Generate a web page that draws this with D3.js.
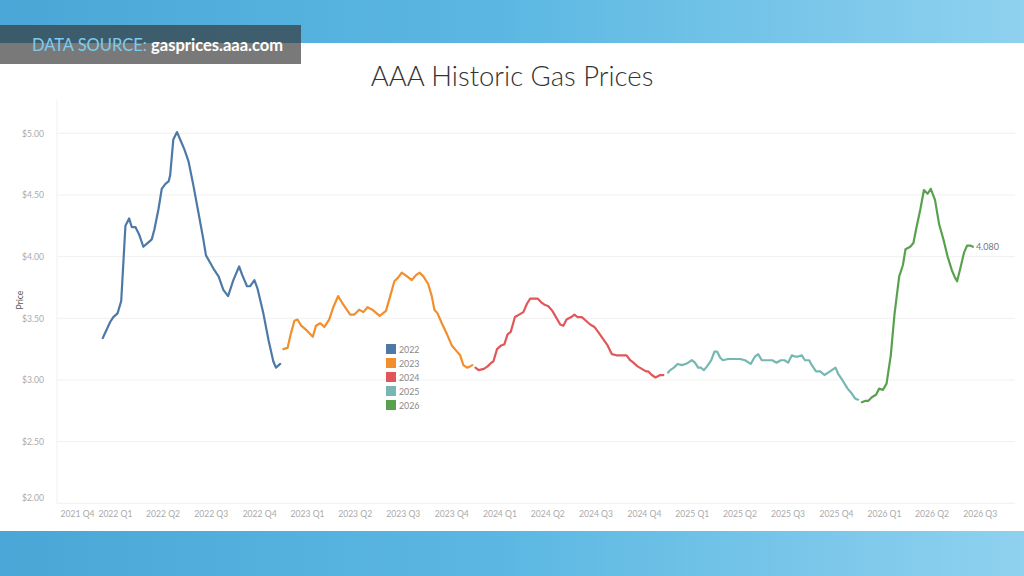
<!DOCTYPE html>
<html>
<head>
<meta charset="utf-8">
<script src="https://cdn.jsdelivr.net/npm/d3@7"></script>
<style>
  body { margin: 0; background: #fff; }
  svg { display: block; font-family: Lato, "Open Sans", sans-serif; }
</style>
</head>
<body>
<svg width="1024" height="576"></svg>
<script>
const years = ["2022", "2023", "2024", "2025", "2026"];
const colors = ["#4e79a7", "#f28e2b", "#e15759", "#76b7b2", "#59a14f"];

const series2022 = [
  ["2022-01-23", 3.34], ["2022-02-06", 3.47], ["2022-02-12", 3.51], ["2022-02-20", 3.54],
  ["2022-02-27", 3.64], ["2022-03-07", 4.25], ["2022-03-14", 4.31], ["2022-03-19", 4.24],
  ["2022-03-26", 4.24], ["2022-04-02", 4.18], ["2022-04-10", 4.08], ["2022-04-18", 4.11],
  ["2022-04-26", 4.14], ["2022-05-01", 4.22], ["2022-05-09", 4.39], ["2022-05-15", 4.55],
  ["2022-05-22", 4.59], ["2022-05-28", 4.61], ["2022-05-31", 4.66], ["2022-06-06", 4.95],
  ["2022-06-13", 5.01], ["2022-06-19", 4.95], ["2022-06-27", 4.87], ["2022-07-05", 4.77],
  ["2022-07-14", 4.58], ["2022-07-24", 4.35], ["2022-08-02", 4.14], ["2022-08-07", 4.01],
  ["2022-08-15", 3.95], ["2022-08-23", 3.89], ["2022-08-31", 3.84], ["2022-09-09", 3.73],
  ["2022-09-18", 3.68], ["2022-09-28", 3.81], ["2022-10-09", 3.92], ["2022-10-15", 3.85],
  ["2022-10-24", 3.76], ["2022-10-30", 3.76], ["2022-11-07", 3.81], ["2022-11-13", 3.74],
  ["2022-11-24", 3.54], ["2022-12-04", 3.32], ["2022-12-13", 3.15], ["2022-12-18", 3.10],
  ["2022-12-26", 3.13]
];

const series2023 = [
  ["2023-01-01", 3.25], ["2023-01-09", 3.26], ["2023-01-15", 3.37], ["2023-01-22", 3.48],
  ["2023-01-28", 3.49], ["2023-02-04", 3.44], ["2023-02-15", 3.40], ["2023-02-26", 3.35],
  ["2023-03-04", 3.44], ["2023-03-12", 3.46], ["2023-03-20", 3.43], ["2023-03-29", 3.49],
  ["2023-04-06", 3.59], ["2023-04-15", 3.68], ["2023-04-25", 3.61], ["2023-05-08", 3.53],
  ["2023-05-16", 3.53], ["2023-05-25", 3.57], ["2023-06-02", 3.55], ["2023-06-10", 3.59],
  ["2023-06-19", 3.57], ["2023-07-03", 3.52], ["2023-07-15", 3.56], ["2023-07-23", 3.68],
  ["2023-07-31", 3.80], ["2023-08-07", 3.83], ["2023-08-14", 3.87], ["2023-08-24", 3.84],
  ["2023-09-02", 3.81], ["2023-09-10", 3.85], ["2023-09-17", 3.87], ["2023-09-24", 3.84],
  ["2023-10-03", 3.78], ["2023-10-10", 3.68], ["2023-10-15", 3.57], ["2023-10-21", 3.54],
  ["2023-10-29", 3.46], ["2023-11-08", 3.37], ["2023-11-17", 3.28], ["2023-11-27", 3.23],
  ["2023-12-03", 3.20], ["2023-12-09", 3.12], ["2023-12-16", 3.10], ["2023-12-22", 3.11],
  ["2023-12-26", 3.12]
];

const series2024 = [
  ["2024-01-01", 3.10], ["2024-01-07", 3.08], ["2024-01-17", 3.09], ["2024-01-24", 3.11],
  ["2024-01-31", 3.14], ["2024-02-04", 3.15], ["2024-02-11", 3.25], ["2024-02-19", 3.28],
  ["2024-02-25", 3.29], ["2024-03-02", 3.37], ["2024-03-08", 3.39], ["2024-03-16", 3.51],
  ["2024-03-24", 3.53], ["2024-04-01", 3.55], ["2024-04-08", 3.62], ["2024-04-14", 3.66],
  ["2024-04-23", 3.66], ["2024-04-28", 3.66], ["2024-05-05", 3.63], ["2024-05-11", 3.61],
  ["2024-05-18", 3.60], ["2024-05-26", 3.56], ["2024-06-02", 3.51], ["2024-06-10", 3.45],
  ["2024-06-16", 3.44], ["2024-06-22", 3.49], ["2024-07-01", 3.51], ["2024-07-07", 3.53],
  ["2024-07-13", 3.51], ["2024-07-21", 3.51], ["2024-07-29", 3.48], ["2024-08-06", 3.45],
  ["2024-08-14", 3.43], ["2024-08-21", 3.39], ["2024-08-31", 3.33], ["2024-09-08", 3.28],
  ["2024-09-16", 3.21], ["2024-09-25", 3.20], ["2024-10-05", 3.20], ["2024-10-14", 3.20],
  ["2024-10-21", 3.16], ["2024-10-27", 3.14], ["2024-11-04", 3.11], ["2024-11-12", 3.09],
  ["2024-11-20", 3.07], ["2024-11-24", 3.07], ["2024-12-01", 3.04], ["2024-12-08", 3.02],
  ["2024-12-17", 3.04], ["2024-12-23", 3.04]
];

const series2025 = [
  ["2025-01-01", 3.06], ["2025-01-05", 3.08], ["2025-01-12", 3.10], ["2025-01-19", 3.13],
  ["2025-01-27", 3.12], ["2025-02-03", 3.13], ["2025-02-08", 3.14], ["2025-02-15", 3.16],
  ["2025-02-21", 3.14], ["2025-02-27", 3.10], ["2025-03-04", 3.10], ["2025-03-10", 3.08],
  ["2025-03-16", 3.11], ["2025-03-24", 3.16], ["2025-03-30", 3.23], ["2025-04-04", 3.23],
  ["2025-04-10", 3.18], ["2025-04-15", 3.16], ["2025-04-25", 3.17], ["2025-05-05", 3.17],
  ["2025-05-18", 3.17], ["2025-05-27", 3.16], ["2025-06-07", 3.13], ["2025-06-15", 3.19],
  ["2025-06-21", 3.21], ["2025-06-28", 3.16], ["2025-07-07", 3.16], ["2025-07-18", 3.16],
  ["2025-07-26", 3.14], ["2025-08-03", 3.16], ["2025-08-10", 3.16], ["2025-08-17", 3.14],
  ["2025-08-24", 3.20], ["2025-08-30", 3.19], ["2025-09-05", 3.19], ["2025-09-12", 3.20],
  ["2025-09-18", 3.16], ["2025-09-26", 3.16], ["2025-10-01", 3.12], ["2025-10-09", 3.07],
  ["2025-10-17", 3.07], ["2025-10-25", 3.04], ["2025-11-01", 3.06], ["2025-11-08", 3.08],
  ["2025-11-15", 3.10], ["2025-11-20", 3.05], ["2025-11-28", 3.00], ["2025-12-08", 2.93],
  ["2025-12-16", 2.89], ["2025-12-22", 2.85], ["2025-12-28", 2.84]
];

const series2026 = [
  ["2026-01-04", 2.82], ["2026-01-10", 2.83], ["2026-01-16", 2.83], ["2026-01-23", 2.86],
  ["2026-01-31", 2.88], ["2026-02-06", 2.93], ["2026-02-13", 2.92], ["2026-02-20", 2.97],
  ["2026-02-28", 3.20], ["2026-03-07", 3.53], ["2026-03-16", 3.84], ["2026-03-23", 3.93],
  ["2026-03-28", 4.06], ["2026-04-06", 4.08], ["2026-04-12", 4.11], ["2026-04-18", 4.24],
  ["2026-04-25", 4.38], ["2026-05-02", 4.54], ["2026-05-09", 4.51], ["2026-05-15", 4.55],
  ["2026-05-23", 4.46], ["2026-05-31", 4.26], ["2026-06-08", 4.14], ["2026-06-16", 4.00],
  ["2026-06-24", 3.89], ["2026-06-30", 3.83], ["2026-07-04", 3.80], ["2026-07-11", 3.92],
  ["2026-07-17", 4.03], ["2026-07-23", 4.09], ["2026-07-29", 4.09], ["2026-08-03", 4.08]
];

const quarterLabels = ["2021 Q4", "2022 Q1", "2022 Q2", "2022 Q3", "2022 Q4", "2023 Q1", "2023 Q2",
  "2023 Q3", "2023 Q4", "2024 Q1", "2024 Q2", "2024 Q3", "2024 Q4", "2025 Q1", "2025 Q2",
  "2025 Q3", "2025 Q4", "2026 Q1", "2026 Q2", "2026 Q3"];
const priceTicks = [2, 2.5, 3, 3.5, 4, 4.5, 5];

const allSeries = [series2022, series2023, series2024, series2025, series2026];
const parse = d3.timeParse("%Y-%m-%d");

const svg = d3.select("svg");
const plotLeft = 57, plotRight = 1015, plotTop = 100, plotBottom = 503.3;

// background: blue bands top and bottom, white card in between
const defs = svg.append("defs");
const grad = defs.append("linearGradient").attr("id", "blue").attr("x1", "0").attr("x2", "1");
grad.append("stop").attr("offset", "0").attr("stop-color", "#4aa6d6");
grad.append("stop").attr("offset", "0.5").attr("stop-color", "#5cb8e2");
grad.append("stop").attr("offset", "1").attr("stop-color", "#8fd1ef");
svg.append("rect").attr("width", 1024).attr("height", 576).attr("fill", "url(#blue)");
svg.append("rect").attr("x", 0).attr("y", 43).attr("width", 1024).attr("height", 488).attr("fill", "#fff");

// source banner
svg.append("rect").attr("x", 0).attr("y", 25).attr("width", 301).attr("height", 39)
  .attr("fill", "#333").attr("opacity", 0.66);
const src = svg.append("text").attr("x", 32).attr("y", 51).attr("font-size", 16.5);
src.append("tspan").attr("fill", "#7fcbee").text("DATA SOURCE: ");
src.append("tspan").attr("fill", "#fff").attr("font-weight", 700).text("gasprices.aaa.com");

svg.append("text").attr("x", 512).attr("y", 86).attr("text-anchor", "middle")
  .attr("font-size", 27.5).attr("font-weight", 300).attr("fill", "#333")
  .text("AAA Historic Gas Prices");

const x = d3.scaleTime()
  .domain([parse("2021-10-28"), parse("2026-10-22")])
  .range([plotLeft, plotRight]);

const y = d3.scaleLinear().domain([2, 5]).range([plotBottom, 133.3]);

// gridlines
svg.append("g").selectAll("line").data(priceTicks).join("line")
  .attr("x1", plotLeft).attr("x2", plotRight)
  .attr("y1", d => y(d)).attr("y2", d => y(d))
  .attr("stroke", "#f0f0f0");
svg.append("line").attr("x1", plotLeft).attr("x2", plotLeft).attr("y1", plotTop).attr("y2", plotBottom)
  .attr("stroke", "#f0f0f0");

const yAxis = svg.append("g")
  .attr("transform", `translate(${plotLeft},0)`)
  .call(d3.axisLeft(y).tickValues(priceTicks).tickFormat(d3.format("$.2f")).tickSize(0).tickPadding(13));
yAxis.select(".domain").remove();
yAxis.selectAll("text").attr("fill", "#aaa").attr("font-size", 8.6).attr("font-family", "Lato, sans-serif")
  .filter(d => d === 2).attr("y", -5.5);

svg.append("text").attr("transform", "translate(23,300) rotate(-90)")
  .attr("text-anchor", "middle").attr("font-size", 8.6).attr("fill", "#555").text("Price");

// quarter labels sit in the middle of each quarter
const quarterMids = quarterLabels.map(q => {
  const yr = +q.slice(0, 4), qi = +q.slice(6) - 1;
  const a = new Date(yr, qi * 3, 1), b = new Date(yr, qi * 3 + 3, 1);
  return new Date((+a + +b) / 2);
});

const xAxis = svg.append("g")
  .attr("transform", `translate(0,${plotBottom})`)
  .call(d3.axisBottom(x).tickValues(quarterMids).tickFormat((d, i) => quarterLabels[i]).tickSize(0).tickPadding(8));
xAxis.select(".domain").remove();
xAxis.selectAll("text").attr("fill", "#aaa").attr("font-size", 8.6).attr("font-family", "Lato, sans-serif")
  .each(function(d) {
    const w = this.getComputedTextLength();
    const cx = x(d);
    if (cx - w / 2 < plotLeft + 3) d3.select(this).attr("x", plotLeft + 3 + w / 2 - cx);
  });

// one line per year
const line = d3.line().x(d => x(parse(d[0]))).y(d => y(d[1]));
svg.append("g").selectAll("path").data(allSeries).join("path")
  .attr("d", line)
  .attr("fill", "none")
  .attr("stroke", (d, i) => colors[i])
  .attr("stroke-width", 2.2)
  .attr("stroke-linejoin", "round")
  .attr("stroke-linecap", "round");

const last = series2026[series2026.length - 1];
svg.append("text").attr("x", x(parse(last[0])) + 3).attr("y", y(last[1]) + 3.3)
  .attr("font-size", 9).attr("fill", "#777").text(d3.format(".3f")(last[1]));

// legend
const legend = svg.append("g").attr("transform", "translate(386,344)");
const item = legend.selectAll("g").data(years).join("g")
  .attr("transform", (d, i) => `translate(0,${i * 14})`);
item.append("rect").attr("width", 10).attr("height", 10).attr("fill", (d, i) => colors[i]);
item.append("text").attr("x", 13).attr("y", 8.8).attr("font-size", 8.8).attr("fill", "#888").text(d => d);
</script>
</body>
</html>
